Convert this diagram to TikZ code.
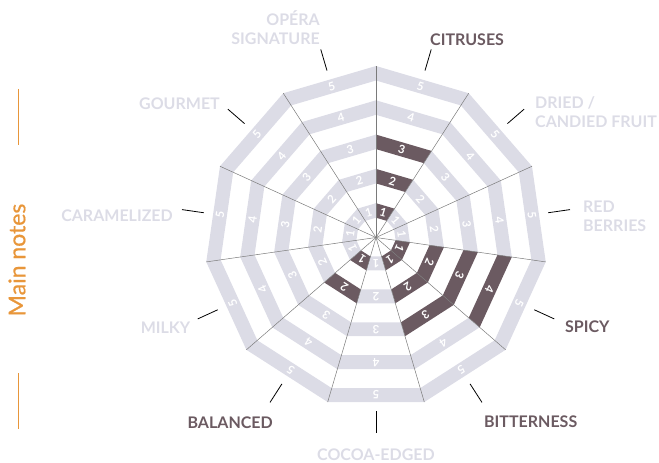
\documentclass[tikz,border=0pt]{standalone}
\usepackage{fontspec}
\setmainfont{Lato}
\newfontfamily\notesfont[FakeBold=0.6]{Lato}
\usetikzlibrary{positioning}

\definecolor{bandgrey}{HTML}{DCDCE6}
\definecolor{mauve}{HTML}{6B5A61}
\definecolor{notesorange}{HTML}{E8963A}
\definecolor{axisgrey}{HTML}{7A7A7A}

\tikzset{
    flavour/.style={font=\bfseries\fontsize{16}{19}\selectfont, inner sep=0pt},
    active/.style={flavour, text=mauve},
    muted/.style={flavour, text=bandgrey},
    bandnum/.style={font=\bfseries\fontsize{11.5}{11.5}\selectfont, text=white, inner sep=0pt},
    spoke/.style={draw=axisgrey, line width=0.5pt},
    tick/.style={draw=black, line width=0.8pt},
}

\begin{document}
\begin{tikzpicture}[x=1pt, y=1pt]
    \useasboundingbox (-376,-225.5) rectangle (283,237.5);

    % bands per sector (value = filled bands)
    \foreach \val [count=\i from 0] in {3,0,0,4,3,0,2,0,0,0,0} {
        \pgfmathsetmacro\a{90-360/11*\i}
        \pgfmathsetmacro\b{\a-360/11}
        \pgfmathsetmacro\m{\a-180/11}
        \foreach \k in {1,...,5} {
            \pgfmathsetmacro\ro{34.3*\k}
            \pgfmathsetmacro\ri{\ro-14.5}
            \pgfmathsetmacro\rm{(\ro-7.25)*cos(180/11)}
            \ifnum\k>\val \def\bandcol{bandgrey}\else\def\bandcol{mauve}\fi
            \fill[fill=\bandcol] (\a:\ri) -- (\a:\ro) -- (\b:\ro) -- (\b:\ri) -- cycle;
            \node (n\i-\k) [bandnum, rotate=\m-90] at (\m:\rm) {\k};
        }
        \coordinate (ta\i) at (\m:174);
        \coordinate (tb\i) at (\m:196);
        \draw[tick] (ta\i) -- (tb\i);
    }

    % spokes
    \coordinate (c) at (0,0);
    \foreach \i in {0,...,10} {
        \coordinate (v\i) at ({90-360/11*\i}:171.5);
        \draw[spoke] (c) -- (v\i);
    }

    % labels
    \node (citrus) [active, anchor=west] at (54,197.5) {CITRUSES};
    \node (dried) [muted, anchor=west, align=left] at (159,125.5) {DRIED /\\CANDIED FRUIT};
    \node (berries) [muted, anchor=west, align=left] at (207,21.5) {RED\\BERRIES};
    \node (spicy) [active, anchor=west] at (189,-89.5) {SPICY};
    \node (bitter) [active, anchor=west] at (108,-184.5) {BITTERNESS};
    \node (cocoa) [muted] at (0,-217.5) {COCOA-EDGED};
    \node (balanced) [active, anchor=east] at (-103,-185.5) {BALANCED};
    \node (milky) [muted, anchor=east] at (-185.5,-90.5) {MILKY};
    \node (caramel) [muted, anchor=east] at (-203,22) {CARAMELIZED};
    \node (gourmet) [muted, anchor=east] at (-156,133.5) {GOURMET};
    \node (opera) [muted, anchor=east, align=right] at (-56,210) {OPÉRA\\SIGNATURE};

    % side title
    \node (notes) [rotate=90, text=notesorange, inner sep=0pt,
        font=\notesfont\fontsize{23}{23}\selectfont] at (-359,-22.5) {Main notes};
    \coordinate (o1) at (-357.3,148.5);
    \coordinate (o2) at (-357.3,92.5);
    \coordinate (o3) at (-357.3,-135.5);
    \coordinate (o4) at (-357.3,-191.5);
    \draw[notesorange, line width=1pt] (o1) -- (o2);
    \draw[notesorange, line width=1pt] (o3) -- (o4);
\end{tikzpicture}
\end{document}
